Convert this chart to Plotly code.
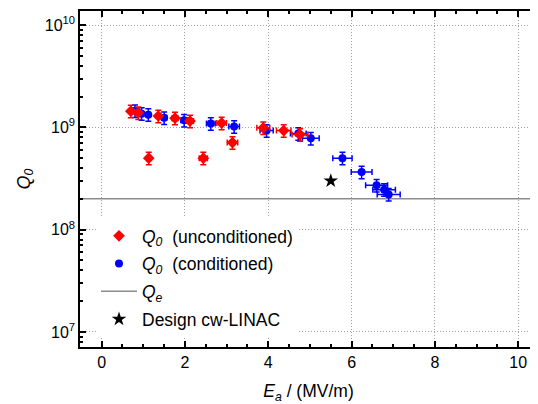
import plotly.graph_objects as go

# Data
E_uncond = [0.70, 0.88, 1.13, 1.36, 1.76, 2.12, 2.44, 2.88, 3.14, 3.88, 4.37, 4.76]
Q_uncond = [1.44e9, 1.39e9, 5.0e8, 1.29e9, 1.23e9, 1.15e9, 5.0e8, 1.10e9, 7.1e8, 9.9e8, 9.3e8, 8.5e8]

E_cond = [0.80, 0.96, 1.12, 1.50, 1.98, 2.62, 3.18, 3.96, 4.72, 5.02, 5.78, 6.24, 6.60, 6.78, 6.89]
Q_cond = [1.45e9, 1.36e9, 1.33e9, 1.24e9, 1.17e9, 1.09e9, 1.02e9, 9.3e8, 8.7e8, 7.8e8,
          5.0e8, 3.66e8, 2.71e8, 2.46e8, 2.21e8]

E_design = [5.5]
Q_design = [3.0e8]

Q_e = 2.0e8

X_RANGE = [-0.52, 10.45]
Y_RANGE_LOG = [6.853, 10.137]

major_y = [1e7, 1e8, 1e9, 1e10]
major_y_text = ["10<sup>7</sup>", "10<sup>8</sup>", "10<sup>9</sup>", "10<sup>10</sup>"]
minor_y = [m * 10 ** p for p in range(6, 10) for m in range(2, 10)]

FONT = "Liberation Sans, Arial, sans-serif"
GRID_DASH = "1px,2px"

fig = go.Figure()

fig.add_trace(go.Scatter(
    x=X_RANGE, y=[Q_e, Q_e], mode="lines",
    line=dict(color="#8c8c8c", width=1.5),
    name="<i>Q<sub>e</sub></i>", legendrank=3, legendgroup="c",
))

fig.add_trace(go.Scatter(
    x=E_cond, y=Q_cond, mode="markers",
    marker=dict(symbol="circle", size=8, color="#0000ff"),
    error_x=dict(type="percent", value=4, color="#0000ff", thickness=1.5, width=3),
    error_y=dict(type="percent", value=14, color="#0000ff", thickness=1.5, width=3),
    name="<i>Q<sub>0</sub></i>  (conditioned)", legendrank=2, legendgroup="b",
))

fig.add_trace(go.Scatter(
    x=E_uncond, y=Q_uncond, mode="markers",
    marker=dict(symbol="diamond", size=9, color="#ff0000"),
    error_x=dict(type="percent", value=4, color="#ff0000", thickness=1.5, width=3),
    error_y=dict(type="percent", value=14, color="#ff0000", thickness=1.5, width=3),
    name="<i>Q<sub>0</sub></i>  (unconditioned)", legendrank=1, legendgroup="a",
))

fig.add_trace(go.Scatter(
    x=E_design, y=Q_design, mode="markers",
    marker=dict(symbol="star", size=11, color="black"),
    name="Design cw-LINAC", legendrank=4, legendgroup="d",
))

# The page body has an 8px default margin, so the figure is sized to fit the window.
fig.update_layout(
    width=530, height=396,
    margin=dict(l=72, r=1, t=3, b=57, autoexpand=False),
    paper_bgcolor="white", plot_bgcolor="white",
    font=dict(family=FONT, size=16, color="black"),
    showlegend=True,
    legend=dict(
        x=0.035, y=0.384, xanchor="left", yanchor="top",
        bgcolor="white", borderwidth=0,
        font=dict(family=FONT, size=17.5, color="black"),
        tracegroupgap=2, itemwidth=36,
    ),
)

fig.update_xaxes(
    range=X_RANGE, dtick=2, tick0=0, automargin=False,
    showline=True, linecolor="black", linewidth=1.5, mirror="ticks",
    ticks="inside", ticklen=6, tickwidth=1.5, tickcolor="black",
    minor=dict(dtick=0.5, tick0=0, ticks="inside", ticklen=3.5, tickwidth=1.5, tickcolor="black", showgrid=False),
    showgrid=True, gridcolor="#a0a0a0", gridwidth=1, griddash=GRID_DASH,
    zeroline=False,
    tickfont=dict(family=FONT, size=16),
    title=dict(text="<i>E<sub>a</sub></i> / (MV/m)", font=dict(family=FONT, size=17.5), standoff=17),
)

fig.update_yaxes(
    type="log", range=Y_RANGE_LOG, automargin=False,
    tickmode="array", tickvals=major_y, ticktext=major_y_text,
    showline=True, linecolor="black", linewidth=1.5, mirror="ticks",
    ticks="inside", ticklen=6, tickwidth=1.5, tickcolor="black",
    minor=dict(tickvals=minor_y, ticks="inside", ticklen=3.5, tickwidth=1.5, tickcolor="black", showgrid=False),
    showgrid=True, gridcolor="#a0a0a0", gridwidth=1, griddash=GRID_DASH,
    zeroline=False,
    tickfont=dict(family=FONT, size=16),
    title=dict(text="<i>Q<sub>0</sub></i>", font=dict(family=FONT, size=17.5), standoff=10),
)

fig.write_html("out.html")
